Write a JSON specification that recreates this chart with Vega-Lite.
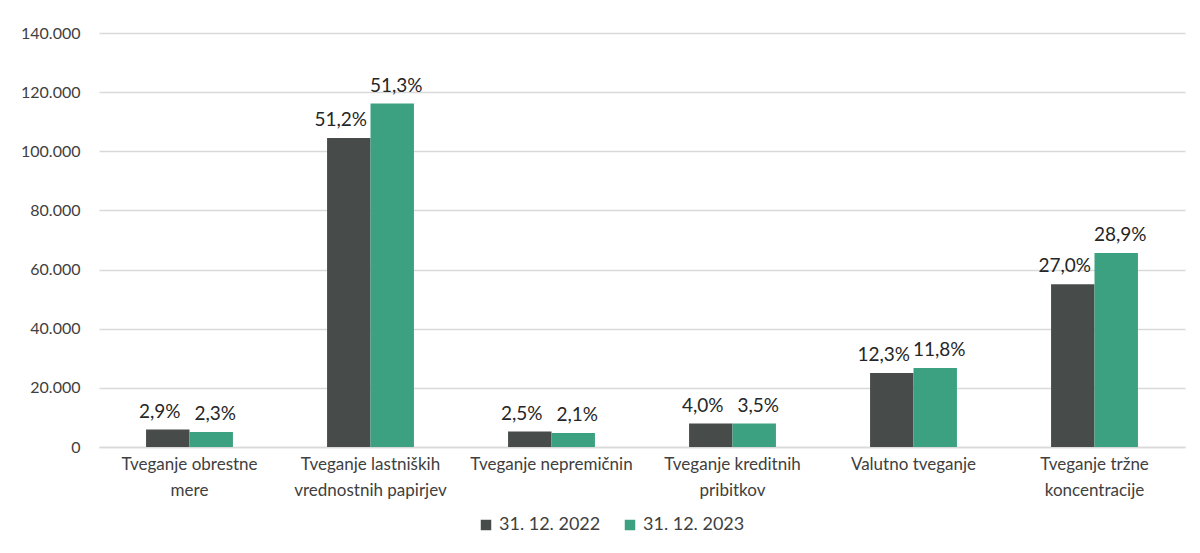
{
  "$schema": "https://vega.github.io/schema/vega-lite/v6.json",
  "autosize": {"type": "none"},
  "width": 1086,
  "height": 414,
  "padding": {"left": 99, "top": 33, "right": 15, "bottom": 106},
  "background": "white",
  "config": {
    "font": "Lato",
    "view": {"stroke": null},
    "axis": {"labelFont": "Lato", "labelColor": "#404040", "labelFontSize": 16}
  },
  "data": {
    "values": [
      {"cat": "Tveganje obrestne mere", "series": "31. 12. 2022", "value": 5880, "pct": "2,9%"},
      {"cat": "Tveganje obrestne mere", "series": "31. 12. 2023", "value": 5070, "pct": "2,3%"},
      {"cat": "Tveganje lastniških vrednostnih papirjev", "series": "31. 12. 2022", "value": 104500, "pct": "51,2%"},
      {"cat": "Tveganje lastniških vrednostnih papirjev", "series": "31. 12. 2023", "value": 116130, "pct": "51,3%"},
      {"cat": "Tveganje nepremičnin", "series": "31. 12. 2022", "value": 5200, "pct": "2,5%"},
      {"cat": "Tveganje nepremičnin", "series": "31. 12. 2023", "value": 4730, "pct": "2,1%"},
      {"cat": "Tveganje kreditnih pribitkov", "series": "31. 12. 2022", "value": 7910, "pct": "4,0%"},
      {"cat": "Tveganje kreditnih pribitkov", "series": "31. 12. 2023", "value": 7910, "pct": "3,5%"},
      {"cat": "Valutno tveganje", "series": "31. 12. 2022", "value": 25030, "pct": "12,3%"},
      {"cat": "Valutno tveganje", "series": "31. 12. 2023", "value": 26720, "pct": "11,8%"},
      {"cat": "Tveganje tržne koncentracije", "series": "31. 12. 2022", "value": 55020, "pct": "27,0%"},
      {"cat": "Tveganje tržne koncentracije", "series": "31. 12. 2023", "value": 65610, "pct": "28,9%"}
    ]
  },
  "encoding": {
    "x": {
      "field": "cat",
      "type": "nominal",
      "sort": null,
      "scale": {"paddingInner": 0.52, "paddingOuter": 0.26},
      "axis": {
        "title": null,
        "labelAngle": 0,
        "ticks": false,
        "domainColor": "#D9D9D9",
        "domainWidth": 1.5,
        "labelPadding": 9,
        "labelFontSize": 17,
        "labelLineHeight": 26,
        "labelBaseline": "top",
        "labelExpr": "datum.value == 'Tveganje obrestne mere' ? ['Tveganje obrestne', 'mere'] : datum.value == 'Tveganje lastniških vrednostnih papirjev' ? ['Tveganje lastniških', 'vrednostnih papirjev'] : datum.value == 'Tveganje kreditnih pribitkov' ? ['Tveganje kreditnih', 'pribitkov'] : datum.value == 'Tveganje tržne koncentracije' ? ['Tveganje tržne', 'koncentracije'] : datum.value"
      }
    },
    "xOffset": {"field": "series", "type": "nominal", "scale": {"paddingInner": 0, "paddingOuter": 0}},
    "y": {
      "field": "value",
      "type": "quantitative",
      "scale": {"domain": [0, 140000], "nice": false},
      "axis": {
        "title": null,
        "values": [0, 20000, 40000, 60000, 80000, 100000, 120000, 140000],
        "domain": false,
        "ticks": false,
        "gridColor": "#D9D9D9",
        "gridWidth": 1.5,
        "labelPadding": 19,
        "labelExpr": "replace(format(datum.value, ','), ',', '.')"
      }
    }
  },
  "layer": [
    {
      "mark": {"type": "bar"},
      "encoding": {
        "color": {
          "field": "series",
          "type": "nominal",
          "scale": {"domain": ["31. 12. 2022", "31. 12. 2023"], "range": ["#474C4B", "#3CA181"]},
          "legend": {
            "title": null,
            "orient": "none",
            "direction": "horizontal",
            "legendX": 378,
            "legendY": 483,
            "symbolType": "square",
            "symbolSize": 110,
            "symbolStrokeWidth": 0,
            "labelFontSize": 18,
            "labelColor": "#404040",
            "labelFont": "Lato",
            "columnPadding": 20,
            "labelOffset": 4
          }
        }
      }
    },
    {
      "transform": [{"filter": "datum.series == '31. 12. 2022'"}],
      "mark": {"type": "text", "baseline": "bottom", "dy": -8, "dx": -8, "fontSize": 19, "color": "#262626", "font": "Lato"},
      "encoding": {
        "text": {"field": "pct"}
      }
    },
    {
      "transform": [{"filter": "datum.series == '31. 12. 2023'"}],
      "mark": {"type": "text", "baseline": "bottom", "dy": -8, "dx": 4, "fontSize": 19, "color": "#262626", "font": "Lato"},
      "encoding": {
        "text": {"field": "pct"}
      }
    }
  ]
}
